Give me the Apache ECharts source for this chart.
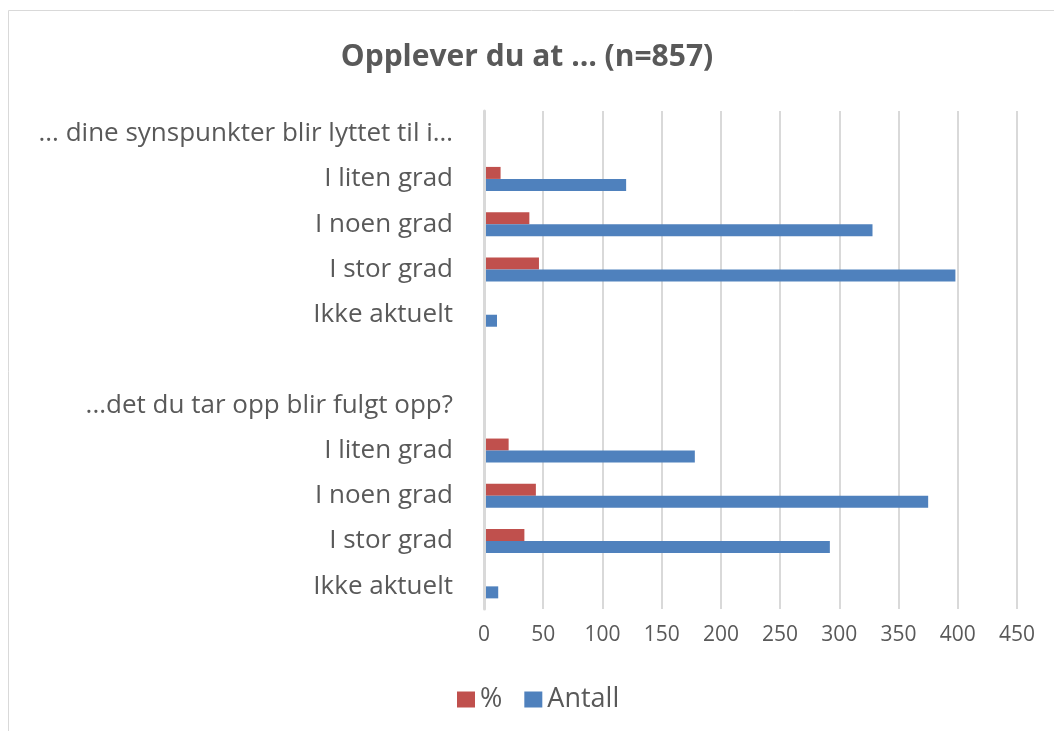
<!DOCTYPE html>
<html lang="no">
<head>
    <meta charset="utf-8">
    <title>Opplever du at</title>
    <script src="https://cdn.jsdelivr.net/npm/echarts@6/dist/echarts.min.js"></script>
    <style>
        body { margin: 0; background: #fff; }
    </style>
</head>
<body>
<div id="main" style="width: 1054px;height:731px;"></div>
<script type="text/javascript">
    // kategorier, ovenfra og ned
    var categories = [
        '... dine synspunkter blir lyttet til i…',
        'I liten grad', 'I noen grad', 'I stor grad', 'Ikke aktuelt',
        '',
        '...det du tar opp blir fulgt opp?',
        'I liten grad', 'I noen grad', 'I stor grad', 'Ikke aktuelt'
    ];
    var prosent = [null, 14.0, 38.3, 46.4, 1.3, null, null, 20.8, 43.8, 34.1, 1.4];
    var antall = [null, 120, 328, 398, 11, null, null, 178, 375, 292, 12];
    var xTicks = [0, 50, 100, 150, 200, 250, 300, 350, 400, 450];

    var font = '"Open Sans", "Noto Sans", sans-serif';
    var grey = '#595959';
    var gridGrey = '#d9d9d9';

    var myChart = echarts.init(document.getElementById('main'));
    var option = {
        animation: false,
        textStyle: { fontFamily: font },
        graphic: [{
            type: 'rect',
            shape: { x: 8.5, y: 10.5, width: 1100, height: 800 },
            style: { fill: 'none', stroke: gridGrey, lineWidth: 1 }
        }],
        title: {
            text: 'Opplever du at … (n=857)',
            left: 'center',
            top: 37,
            textStyle: { fontFamily: font, fontSize: 30, fontWeight: 'bold', color: grey }
        },
        legend: {
            bottom: 13,
            left: 452,
            icon: 'rect',
            itemWidth: 18,
            itemHeight: 16,
            itemGap: 22,
            textStyle: { fontFamily: font, fontSize: 27, color: grey },
            data: ['%', 'Antall']
        },
        grid: {
            left: 484,
            right: 37,
            top: 111,
            bottom: 122,
            containLabel: false
        },
        xAxis: {
            type: 'value',
            min: xTicks[0],
            max: xTicks[xTicks.length - 1],
            interval: 50,
            axisLine: { show: false },
            axisTick: { show: false },
            splitLine: { lineStyle: { color: gridGrey, width: 2 } },
            axisLabel: { fontFamily: font, fontSize: 21, color: grey, margin: 16 }
        },
        yAxis: {
            type: 'category',
            inverse: true,
            z: 3,
            data: categories,
            axisLine: { show: true, lineStyle: { color: gridGrey, width: 3 } },
            axisTick: { show: false },
            axisLabel: { fontFamily: font, fontSize: 26, color: grey, margin: 31 }
        },
        series: [{
            name: '%',
            type: 'bar',
            data: prosent,
            barWidth: 12,
            barGap: '0%',
            itemStyle: { color: '#C0504D' }
        }, {
            name: 'Antall',
            type: 'bar',
            data: antall,
            barWidth: 12,
            barGap: '0%',
            itemStyle: { color: '#4F81BD' }
        }]
    };
    myChart.setOption(option);
</script>
</body>
</html>
